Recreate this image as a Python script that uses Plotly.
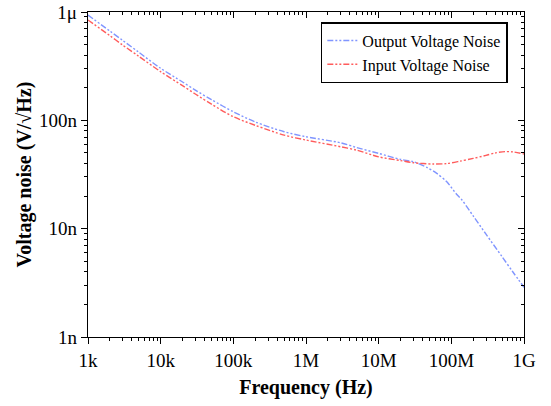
import plotly.graph_objects as go

out_freq = [1e3, 2e3, 3e3, 5e3, 1e4, 2e4, 3e4, 5e4, 1e5, 2e5, 5e5, 1e6, 3e6, 5e6, 1e7,
            2e7, 3e7, 4.6e7, 6.3e7, 8.6e7, 1.18e8, 1.4e8, 2e8, 3e8, 5e8, 7e8, 1e9]
output_noise = [937e-9, 667e-9, 547e-9, 425e-9, 302e-9, 226e-9, 190e-9, 155e-9, 120e-9,
                96.6e-9, 78.5e-9, 70.6e-9, 62e-9, 56e-9, 49.5e-9,
                43.6e-9, 41.5e-9, 36.8e-9, 32.4e-9, 27.2e-9, 20.8e-9, 18.4e-9, 13.1e-9,
                8.9e-9, 5.5e-9, 4.0e-9, 2.88e-9]

in_freq = [1e3, 2e3, 3e3, 5e3, 1e4, 2e4, 3e4, 5e4, 1e5, 2e5, 5e5, 1e6, 3e6, 5e6, 1e7,
           2e7, 3e7, 5.6e7, 8.6e7, 1.32e8, 2e8, 3e8, 4e8, 5.5e8, 7e8, 1e9]
input_noise = [844e-9, 605e-9, 495e-9, 390e-9, 281e-9, 209e-9, 175e-9, 141e-9, 108e-9,
               90e-9, 73e-9, 65.8e-9, 57e-9, 53e-9, 46e-9,
               42.5e-9, 40.6e-9, 39.5e-9, 39.9e-9, 42e-9, 44.5e-9, 47.5e-9, 50e-9,
               51.4e-9, 51.2e-9, 48.9e-9]

x_tickvals = [1e3, 1e4, 1e5, 1e6, 1e7, 1e8, 1e9]
x_ticktext = ["1k", "10k", "100k", "1M", "10M", "100M", "1G"]
y_tickvals = [1e-9, 1e-8, 1e-7, 1e-6]
y_ticktext = ["1n", "10n", "100n", "1μ"]

x_minor = [m * d for d in x_tickvals[:-1] for m in range(2, 10)]
y_minor = [m * d for d in y_tickvals[:-1] for m in range(2, 10)]

FONT = "Liberation Serif, Times New Roman, serif"
DASH = "6px,2px,2px,2px,2px,2px"
XR = [3, 9]
YR = [-9, -6]

fig = go.Figure()
fig.add_trace(go.Scatter(x=out_freq, y=output_noise, mode="lines", name="Output Voltage Noise",
                         line=dict(color="#8095ff", width=1.4, dash=DASH, shape="spline",
                                   smoothing=0.8)))
fig.add_trace(go.Scatter(x=in_freq, y=input_noise, mode="lines", name="Input Voltage Noise",
                         line=dict(color="#ff5c5c", width=1.4, dash=DASH, shape="spline",
                                   smoothing=0.8)))
# invisible traces hosting the extra tick axes
for k in (2, 3, 4):
    fig.add_trace(go.Scatter(x=[out_freq[0]], y=[output_noise[0]], xaxis=f"x{k}", yaxis=f"y{k}",
                             mode="markers", marker=dict(opacity=0), showlegend=False,
                             hoverinfo="skip"))

base = dict(type="log", showgrid=False, zeroline=False, showline=True, automargin=False,
            linecolor="black", linewidth=1.4, tickcolor="black", tickmode="array")
tickfont = dict(family=FONT, size=19, color="black")

fig.update_layout(
    width=551, height=406,
    margin=dict(l=88, r=27, t=12, b=69),
    plot_bgcolor="white", paper_bgcolor="white",
    font=dict(family=FONT, color="black"),
    hovermode=False,
    # bottom / left: minor ticks + titles
    xaxis=dict(**base, range=XR, tickvals=x_minor, showticklabels=False,
               ticks="outside", ticklen=3, tickwidth=1,
               title=dict(text="<b>Frequency (Hz)</b>", font=dict(family=FONT, size=20),
                          standoff=39)),
    yaxis=dict(**base, range=YR, tickvals=y_minor, showticklabels=False,
               ticks="outside", ticklen=3, tickwidth=1,
               title=dict(text="<b>Voltage noise (V/√Hz)</b>", font=dict(family=FONT, size=20),
                          standoff=46)),
    # bottom / left: major ticks with labels
    xaxis3=dict(**base, range=XR, overlaying="x", side="bottom", anchor="y3",
                tickvals=x_tickvals, ticktext=x_ticktext, ticks="outside", ticklen=6,
                tickwidth=1.2, tickfont=tickfont, ticklabeloverflow="allow"),
    yaxis3=dict(**base, range=YR, overlaying="y", side="left", anchor="x3",
                tickvals=y_tickvals, ticktext=y_ticktext, ticks="outside", ticklen=6,
                tickwidth=1.2, tickfont=tickfont, ticklabeloverflow="allow"),
    # top / right: minor ticks inside
    xaxis2=dict(**base, range=XR, overlaying="x", side="top", anchor="y2",
                tickvals=x_minor, showticklabels=False, ticks="inside", ticklen=3, tickwidth=1),
    yaxis2=dict(**base, range=YR, overlaying="y", side="right", anchor="x2",
                tickvals=y_minor, showticklabels=False, ticks="inside", ticklen=3, tickwidth=1),
    # top / right: major ticks inside
    xaxis4=dict(**base, range=XR, overlaying="x", side="top", anchor="y4",
                tickvals=x_tickvals, showticklabels=False, ticks="inside", ticklen=6,
                tickwidth=1.2),
    yaxis4=dict(**base, range=YR, overlaying="y", side="right", anchor="x4",
                tickvals=y_tickvals, showticklabels=False, ticks="inside", ticklen=6,
                tickwidth=1.2),
    legend=dict(x=0.534, y=0.969, xanchor="left", yanchor="top",
                bgcolor="white", bordercolor="black", borderwidth=1.5,
                font=dict(family=FONT, size=16, color="black"),
                tracegroupgap=0, itemwidth=30),
    showlegend=True,
)

fig.write_html("out.html", config={"displayModeBar": False},
               post_script="document.body.style.margin='0';")
